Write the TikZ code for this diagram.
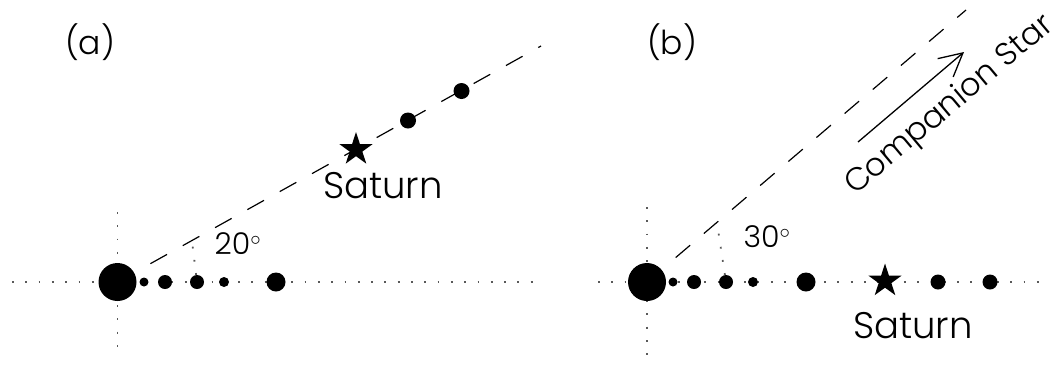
\documentclass[tikz,border=0pt]{standalone}
\usepackage{fontspec}
\setmainfont{Poppins}[UprightFont=* Light]
\usetikzlibrary{shapes.geometric,arrows.meta,positioning,backgrounds}

\begin{document}
\begin{tikzpicture}[
    x=1pt, y=-1pt,
    planet/.style={circle, fill=black, inner sep=0pt, minimum size=38pt},
    moon/.style={circle, fill=black, inner sep=0pt, minimum size=#1},
    saturn/.style={star, star points=5, star point ratio=2.618, fill=black, inner sep=0pt, minimum size=35pt},
    sight/.style={line width=1.2pt, dash pattern=on 19pt off 18pt, shorten <=18.5pt},
    guide/.style={line width=1.8pt, gray!70!black, dash pattern=on 1.8pt off 11.5pt},
    pointer/.style={line width=1.3pt, -{Straight Barb[length=23pt, width=24pt, line width=1.3pt]}},
    tag/.style={font=\fontsize{33}{36}\selectfont},
    lbl/.style={font=\fontsize{37}{40}\selectfont},
    comptxt/.style={font=\fontsize{32}{34}\selectfont},
    ang/.style={font=\fontsize{30}{34}\selectfont}
]
\useasboundingbox (0,0) rectangle (1064,365);

% ---- panel (a)
\node[tag] (taga) at (90,42) {(a)};
\node[planet] (ca) at (117.5,282) {};
\node[moon=9pt] (a1) at (144,282) {};
\node[moon=14pt] (a2) at (165,282) {};
\node[moon=14pt] (a3) at (197,282) {};
\node[moon=10pt] (a4) at (224,282) {};
\node[moon=19pt] (a5) at (276,282) {};
\node[saturn] (sata) at (356,149.5) {};
\node[moon=16pt] (a6) at (408,120.5) {};
\node[moon=16pt] (a7) at (461.5,91) {};
\node[lbl] (labsata) at (383,186) {Saturn};
\node[ang] (anga) at (238,244) {20$^{\circ}$};
\coordinate (aend) at (541,46);
\coordinate (afoot) at (192,241);
\coordinate (axl) at (12,282);
\coordinate (axr) at (540,282);
\coordinate (ayt) at (117.5,212);
\coordinate (ayb) at (117.5,356);

% ---- panel (b)
\node[tag] (tagb) at (672,42) {(b)};
\node[planet] (cb) at (647,282) {};
\node[moon=9pt] (b1) at (673,282) {};
\node[moon=14pt] (b2) at (694,282) {};
\node[moon=14pt] (b3) at (726,282) {};
\node[moon=10pt] (b4) at (753,282) {};
\node[moon=19pt] (b5) at (806,282) {};
\node[saturn] (satb) at (885,281) {};
\node[moon=15pt] (b6) at (938,282) {};
\node[moon=15pt] (b7) at (990,282) {};
\node[lbl] (labsatb) at (913,326) {Saturn};
\node[ang] (angb) at (767,237) {30$^{\circ}$};
\node[comptxt, rotate=40] (comp) at (950,106) {Companion Star};
\coordinate (bend) at (966,10);
\coordinate (bfoot) at (717,223);
\coordinate (bxl) at (598,282);
\coordinate (bxr) at (1040,282);
\coordinate (byt) at (647,207);
\coordinate (byb) at (647,362);
\coordinate (arrs) at (858,142);
\coordinate (arre) at (964,52);

% lines behind the bodies
\begin{scope}[on background layer]
\draw[guide] (axl) -- (axr);
\draw[guide] (ayt) -- (ayb);
\draw[guide] (a3) -- (afoot);
\draw[sight] (ca) -- (aend);
\draw[guide] (bxl) -- (bxr);
\draw[guide] (byt) -- (byb);
\draw[guide] (b3) -- (bfoot);
\draw[sight] (cb) -- (bend);
\end{scope}
\draw[pointer] (arrs) -- (arre);

\end{tikzpicture}
\end{document}
